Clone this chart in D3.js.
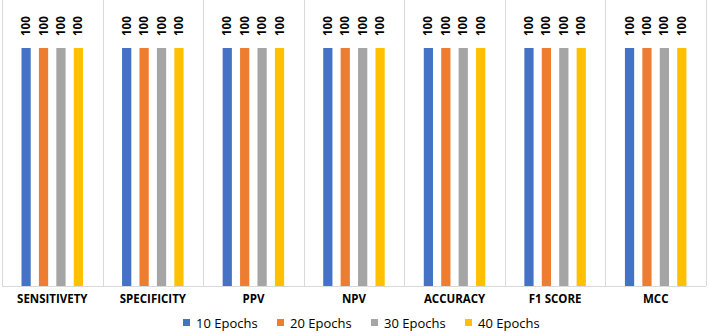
<!DOCTYPE html>
<html>
<head>
<meta charset="utf-8">
<script src="https://cdn.jsdelivr.net/npm/d3@7"></script>
<style>
  body { margin: 0; background: #fff; }
  svg { display: block; }
</style>
</head>
<body>
<div id="wrapper"></div>
<script>
const categories = ["SENSITIVETY", "SPECIFICITY", "PPV", "NPV", "ACCURACY", "F1 SCORE", "MCC"];
const seriesNames = ["10 Epochs", "20 Epochs", "30 Epochs", "40 Epochs"];
const colors = ["#4472C4", "#ED7D31", "#A5A5A5", "#FFC000"];
const values10 = [100, 100, 100, 100, 100, 100, 100];
const values20 = [100, 100, 100, 100, 100, 100, 100];
const values30 = [100, 100, 100, 100, 100, 100, 100];
const values40 = [100, 100, 100, 100, 100, 100, 100];
const allValues = [values10, values20, values30, values40];

const data = categories.map((c, i) => ({
    cat: c,
    vals: seriesNames.map((s, j) => ({ series: s, value: allValues[j][i], color: colors[j] }))
}));

var dimension = {
    width: 709,
    height: 333,
    margin: { top: 0, left: 2, bottom: 47, right: 3 }
};
dimension.boundedWidth = dimension.width - dimension.margin.left - dimension.margin.right;
dimension.boundedHeight = dimension.height - dimension.margin.top - dimension.margin.bottom;

const svg = d3.select("#wrapper").append("svg")
    .attr("width", dimension.width)
    .attr("height", dimension.height);

const bounded = svg.append("g")
    .attr("transform", `translate(${dimension.margin.left},${dimension.margin.top})`);

const xScaler = d3.scaleBand()
    .domain(categories)
    .range([0, dimension.boundedWidth]);

const innerScaler = d3.scaleBand()
    .domain(seriesNames)
    .range([19.5, 81])
    .paddingInner(0.47);

// 100 maps to y=48
const yScaler = d3.scaleLinear()
    .domain([0, 120])
    .range([dimension.boundedHeight, dimension.boundedHeight - 238 * 1.2]);

// category separators
const seps = d3.range(categories.length + 1).map(i => i * xScaler.step());
bounded.selectAll("line.sep")
    .data(seps)
    .join("line")
    .attr("class", "sep")
    .attr("x1", d => Math.round(d) + 0.5)
    .attr("x2", d => Math.round(d) + 0.5)
    .attr("y1", 0)
    .attr("y2", dimension.boundedHeight)
    .attr("stroke", "#d9d9d9")
    .attr("stroke-width", 1);

bounded.append("line")
    .attr("x1", 0)
    .attr("x2", dimension.boundedWidth)
    .attr("y1", dimension.boundedHeight + 0.5)
    .attr("y2", dimension.boundedHeight + 0.5)
    .attr("stroke", "#d9d9d9");

const groups = bounded.selectAll("g.cat")
    .data(data)
    .join("g")
    .attr("class", "cat")
    .attr("transform", d => `translate(${xScaler(d.cat)},0)`);

groups.selectAll("rect")
    .data(d => d.vals)
    .join("rect")
    .attr("x", d => innerScaler(d.series))
    .attr("width", innerScaler.bandwidth())
    .attr("y", d => yScaler(d.value))
    .attr("height", d => dimension.boundedHeight - yScaler(d.value))
    .attr("fill", d => d.color);

groups.selectAll("text.val")
    .data(d => d.vals)
    .join("text")
    .attr("class", "val")
    .attr("transform", d => `translate(${innerScaler(d.series) + innerScaler.bandwidth() / 2 + 4},${yScaler(d.value) - 12}) rotate(-90)`)
    .attr("font-family", "Open Sans, sans-serif")
    .attr("font-weight", "bold")
    .attr("font-size", 11.5)
    .attr("fill", "#000")
    .text(d => d.value);

// category axis labels
const xAxis = d3.axisBottom(xScaler).tickSize(0).tickPadding(9);
const axisG = bounded.append("g")
    .attr("transform", `translate(0,${dimension.boundedHeight})`)
    .call(xAxis);
axisG.select(".domain").remove();
axisG.selectAll("text")
    .attr("font-family", "Open Sans, sans-serif")
    .attr("font-weight", "bold")
    .attr("font-size", 11.5)
    .attr("fill", "#000");

// legend
const legend = svg.append("g")
    .attr("transform", "translate(183,323)");
const items = legend.selectAll("g")
    .data(seriesNames)
    .join("g")
    .attr("transform", (d, i) => `translate(${i * 94},0)`);
items.append("rect")
    .attr("x", 0)
    .attr("y", -4)
    .attr("width", 7)
    .attr("height", 7)
    .attr("fill", (d, i) => colors[i]);
items.append("text")
    .attr("x", 13)
    .attr("y", 0)
    .attr("dy", "0.35em")
    .attr("font-family", "Open Sans, sans-serif")
    .attr("font-size", 13)
    .attr("fill", "#000")
    .text(d => d);
</script>
</body>
</html>
